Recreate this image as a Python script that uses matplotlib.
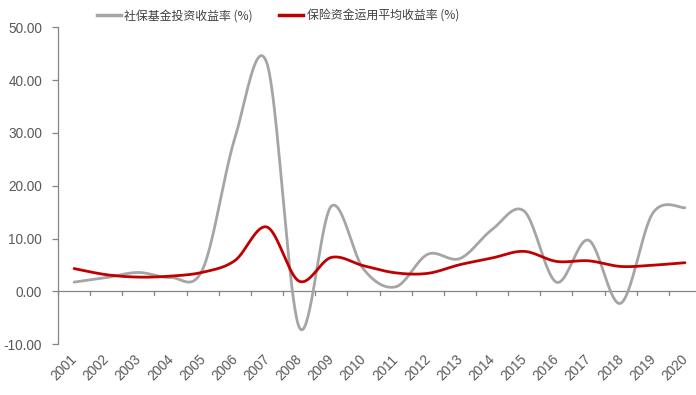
import numpy as np
import matplotlib
matplotlib.use("Agg")
import matplotlib.pyplot as plt
from matplotlib.lines import Line2D

years = ["2001", "2002", "2003", "2004", "2005", "2006", "2007", "2008", "2009", "2010",
         "2011", "2012", "2013", "2014", "2015", "2016", "2017", "2018", "2019", "2020"]
ssf_return = [1.73, 2.59, 3.56, 2.61, 4.16, 29.01, 43.19, -6.79, 16.12, 4.23,
              0.84, 7.01, 6.20, 11.69, 15.19, 1.73, 9.68, -2.28, 14.80, 15.84]
ins_return = [4.30, 3.14, 2.68, 2.87, 3.60, 5.80, 12.17, 1.91, 6.41, 4.84,
              3.49, 3.39, 5.04, 6.30, 7.56, 5.66, 5.77, 4.70, 4.94, 5.41]
series_names = ["社保基金投资收益率 (%)", "保险资金运用平均收益率 (%)"]


def smooth(y, n=40):
    y = np.asarray(y, dtype=float)
    x = np.arange(len(y), dtype=float)
    P = np.column_stack([x, y])
    Pe = np.vstack([P[0], P, P[-1]])
    out = []
    t = np.linspace(0, 1, n)[:, None]
    for i in range(len(P) - 1):
        p0, p1, p2, p3 = Pe[i], Pe[i + 1], Pe[i + 2], Pe[i + 3]
        c1 = p1 + (p2 - p0) / 6.0
        c2 = p2 - (p3 - p1) / 6.0
        seg = ((1 - t) ** 3) * p1 + 3 * ((1 - t) ** 2) * t * c1 + 3 * (1 - t) * t ** 2 * c2 + t ** 3 * p2
        out.append(seg if i == 0 else seg[1:])
    arr = np.vstack(out)
    return arr[:, 0], arr[:, 1]


plt.rcParams['font.family'] = ['Liberation Sans', 'Noto Sans CJK SC', 'DejaVu Sans']

fig = plt.figure(figsize=(6.96, 3.95), dpi=100)
ax = fig.add_axes([58 / 696, 51 / 395, 643 / 696, 316.5 / 395])

gray = "#A5A5A5"
red = "#C00000"
axis_col = "#868686"

xs, ys = smooth(ssf_return)
ax.plot(xs, ys, color=gray, lw=2.0, solid_capstyle='round')
xr, yr = smooth(ins_return)
ax.plot(xr, yr, color=red, lw=2.0, solid_capstyle='round')

ax.set_xlim(-0.5, len(years) - 0.5)
ax.set_ylim(-10, 50)
ax.set_yticks(np.arange(-10, 51, 10))
ax.set_yticklabels([f"{v:.2f}" for v in np.arange(-10, 51, 10)])

for s in ["top", "right", "bottom"]:
    ax.spines[s].set_visible(False)
ax.spines["left"].set_color(axis_col)
ax.spines["left"].set_linewidth(0.9)
ax.axhline(0, color=axis_col, lw=0.9, zorder=0.5)

ax.tick_params(axis='y', direction='out', length=4.5, width=0.9, color=axis_col,
               labelsize=9.8, labelcolor="#595959", pad=7)
ax.set_xticks([])

# x boundary ticks at zero line
for b in np.arange(-0.5, len(years), 1.0):
    ax.plot([b, b], [0, -0.75], color=axis_col, lw=0.9, clip_on=False)

# category labels below plot
for i, yr_lbl in enumerate(years):
    ax.annotate(yr_lbl, xy=(i, 0), xycoords=('data', 'axes fraction'),
                xytext=(-3, -6), textcoords='offset points',
                rotation=45, ha='right', va='top', rotation_mode='anchor',
                fontsize=9.8, color="#595959")

handles = [Line2D([0], [0], color=gray, lw=2.5), Line2D([0], [0], color=red, lw=2.5)]
fig.legend(handles, series_names, loc='center', bbox_to_anchor=(278 / 696, 1 - 16 / 395),
           ncol=2, frameon=False, handlelength=2.0, handletextpad=0.3,
           columnspacing=2.2, prop={'family': ['Noto Sans CJK SC', 'DejaVu Sans'], 'size': 8.6},
           labelcolor="#404040")

fig.savefig("out.png", dpi=100)
